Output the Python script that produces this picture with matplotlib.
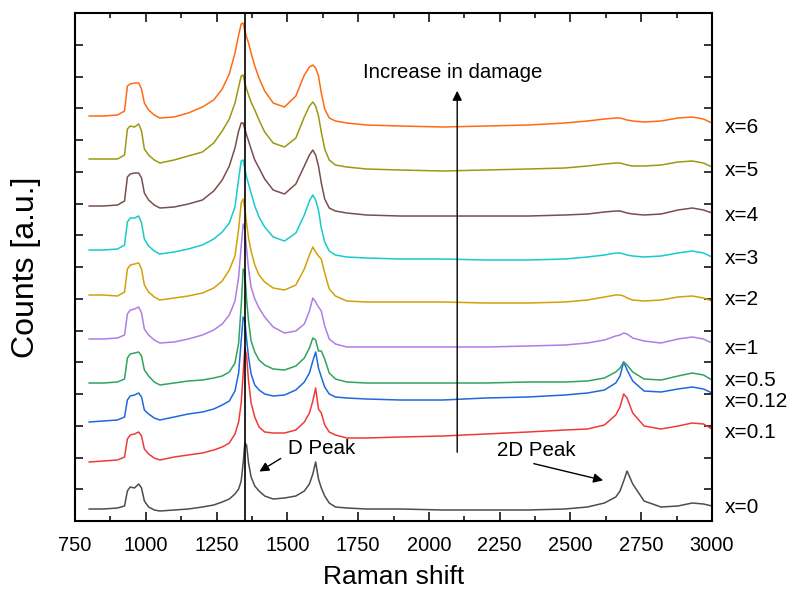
import numpy as np
import matplotlib
matplotlib.use('Agg')
import matplotlib.pyplot as plt
from matplotlib.ticker import MultipleLocator

plt.rcParams['font.family'] = ['Liberation Sans', 'DejaVu Sans']

# Raman shift sample positions (cm^-1)
raman_shift = [800, 850, 900, 925, 935, 945, 960, 975, 985, 995,
               1010, 1030, 1050, 1100, 1150, 1200, 1240, 1270, 1295, 1315,
               1328, 1337, 1344, 1350, 1356, 1363, 1372, 1385, 1400, 1420,
               1450, 1490, 1530, 1560, 1578, 1590, 1600, 1610, 1620, 1632,
               1648, 1670, 1710, 1780, 1900, 2050, 2200, 2350, 2480, 2560,
               2620, 2660, 2675, 2688, 2700, 2720, 2760, 2820, 2880, 2930,
               2970, 3000]

# stacked counts (a.u.), one list per sample
counts_x0 = [12, 12, 13, 15, 30, 34, 33, 37, 33, 20,
             14, 11, 10, 11, 12, 14, 16, 19, 22, 27,
             32, 40, 58, 78, 76, 58, 44, 35, 30, 25,
             22, 23, 25, 30, 37, 47, 59, 42, 33, 25,
             18, 14, 13, 12, 12, 11, 11, 11, 12, 14,
             18, 24, 30, 40, 50, 37, 20, 14, 15, 18,
             17, 15]
counts_x01 = [59, 60, 61, 64, 82, 86, 87, 89, 85, 72,
              67, 63, 61, 64, 66, 68, 71, 74, 78, 87,
              99, 118, 148, 173, 165, 140, 118, 104, 94, 89,
              88, 88, 91, 99, 108, 120, 133, 112, 108, 96,
              89, 86, 83, 83, 84, 85, 87, 89, 91, 92,
              96, 106, 114, 127, 123, 108, 95, 92, 95, 98,
              97, 92]
counts_x012 = [99, 100, 101, 104, 121, 125, 126, 128, 124, 111,
               107, 103, 101, 104, 107, 109, 112, 116, 120, 130,
               148, 180, 204, 200, 182, 164, 147, 136, 131, 127,
               125, 126, 131, 139, 148, 160, 169, 153, 144, 134,
               127, 124, 123, 122, 121, 121, 123, 124, 126, 128,
               131, 138, 145, 159, 151, 140, 130, 129, 132, 134,
               132, 128]
counts_x05 = [138, 138, 139, 142, 163, 167, 168, 169, 165, 151,
              145, 139, 136, 138, 140, 141, 143, 145, 149, 158,
              178, 215, 252, 248, 222, 200, 180, 169, 161, 156,
              152, 151, 155, 163, 173, 183, 181, 170, 170, 162,
              148, 142, 139, 138, 138, 138, 138, 139, 139, 140,
              143, 149, 153, 159, 156, 149, 142, 141, 145, 148,
              146, 141]
counts_x1 = [182, 182, 183, 186, 207, 211, 212, 214, 208, 192,
             186, 181, 178, 179, 182, 186, 191, 197, 206, 220,
             244, 275, 297, 292, 272, 252, 234, 222, 213, 204,
             194, 188, 190, 197, 210, 223, 219, 214, 210, 195,
             182, 177, 174, 174, 174, 174, 174, 175, 176, 178,
             181, 185, 186, 188, 187, 183, 180, 178, 182, 184,
             182, 178]
counts_x2 = [226, 226, 225, 229, 252, 256, 257, 258, 252, 236,
             229, 224, 221, 223, 225, 228, 233, 240, 251, 265,
             292, 318, 322, 312, 298, 283, 270, 256, 246, 239,
             233, 231, 236, 252, 266, 274, 269, 265, 262, 248,
             232, 225, 220, 219, 219, 219, 218, 218, 219, 221,
             224, 226, 226, 225, 223, 221, 220, 221, 224, 225,
             223, 220]
counts_x3 = [271, 271, 272, 276, 299, 303, 303, 305, 298, 282,
             275, 270, 267, 269, 272, 276, 282, 289, 298, 314,
             342, 360, 361, 352, 344, 337, 328, 315, 304, 294,
             284, 280, 288, 306, 320, 326, 321, 311, 293, 279,
             270, 266, 264, 263, 262, 262, 261, 261, 262, 264,
             266, 268, 268, 267, 266, 265, 264, 265, 268, 270,
             268, 264]
counts_x4 = [315, 315, 316, 320, 344, 347, 348, 348, 343, 328,
             321, 316, 313, 314, 317, 321, 330, 341, 355, 373,
             390, 398, 398, 392, 386, 380, 372, 361, 353, 342,
             331, 327, 337, 355, 366, 371, 366, 355, 338, 322,
             313, 310, 308, 306, 305, 305, 305, 305, 306, 307,
             309, 310, 310, 309, 308, 307, 306, 307, 311, 313,
             311, 308]
counts_x5 = [362, 362, 362, 366, 392, 395, 394, 397, 390, 372,
             366, 361, 358, 361, 365, 369, 378, 390, 402, 418,
             434, 445, 446, 438, 432, 426, 419, 411, 401, 389,
             378, 374, 383, 404, 415, 419, 415, 405, 389, 372,
             361, 356, 354, 352, 351, 350, 351, 352, 353, 355,
             357, 358, 358, 357, 356, 355, 355, 356, 359, 360,
             358, 354]
counts_x6 = [405, 405, 406, 410, 435, 437, 438, 438, 432, 418,
             411, 406, 403, 404, 408, 414, 421, 432, 447, 468,
             486, 497, 498, 490, 484, 478, 468, 455, 443, 430,
             418, 414, 425, 446, 454, 456, 453, 445, 428, 412,
             403, 400, 398, 396, 395, 394, 395, 396, 398, 400,
             402, 403, 403, 402, 401, 400, 399, 400, 403, 404,
             402, 398]

spectra = [counts_x0, counts_x01, counts_x012, counts_x05, counts_x1,
           counts_x2, counts_x3, counts_x4, counts_x5, counts_x6]
labels = ['x=0', 'x=0.1', 'x=0.12', 'x=0.5', 'x=1',
          'x=2', 'x=3', 'x=4', 'x=5', 'x=6']
label_heights = [14, 89, 120, 141, 173, 222, 263, 306, 351, 394]
colors = ['#4d4d4d', '#f03a3a', '#1f68dd', '#2ea45e', '#b07de6',
          '#d2a10a', '#18caca', '#7a4e4e', '#9a9a12', '#ff6a14']

fig = plt.figure(figsize=(7.92, 5.97), dpi=100)
ax = fig.add_axes([0.0947, 0.1273, 0.8043, 0.8509])

for c, s in zip(colors, spectra):
    ax.plot(raman_shift, s, color=c, lw=1.1)

for lab, h in zip(labels, label_heights):
    ax.text(1.02, h, lab, transform=ax.get_yaxis_transform(),
            fontsize=15, va='center', ha='left')

ax.axvline(1350, color='black', lw=1.2)

ax.annotate('', xy=(2100, 433), xytext=(2100, 66),
            arrowprops=dict(arrowstyle='-|>', color='black', lw=1.0, mutation_scale=14))
ax.text(2085, 449, 'Increase in damage', fontsize=14.7, ha='center', va='center')

ax.text(1502, 73, 'D Peak', fontsize=14.8, ha='left', va='center')
ax.annotate('', xy=(1393, 48), xytext=(1485, 64),
            arrowprops=dict(arrowstyle='-|>', color='black', lw=1.0, mutation_scale=14))
ax.text(2240, 71, '2D Peak', fontsize=14.8, ha='left', va='center')
ax.annotate('', xy=(2625, 40), xytext=(2361, 58),
            arrowprops=dict(arrowstyle='-|>', color='black', lw=1.0, mutation_scale=14))

ax.set_xlim(750, 3000)
ax.set_ylim(0, 508)
ax.xaxis.set_major_locator(MultipleLocator(250))
ax.xaxis.set_minor_locator(MultipleLocator(125))
ax.set_yticks(np.linspace(0, 508, 17))
ax.set_yticklabels([])
ax.tick_params(axis='x', which='major', direction='in', top=True, length=6.5, width=1.1,
               labelsize=14.4, pad=11)
ax.tick_params(axis='x', which='minor', direction='in', top=True, length=3.3, width=1.1)
ax.tick_params(axis='y', direction='in', right=True, length=6, width=1.1)
for sp in ax.spines.values():
    sp.set_linewidth(1.5)

ax.set_xlabel('Raman shift', fontsize=19)
ax.xaxis.set_label_coords(0.5, -0.087)
ax.set_ylabel('Counts [a.u.]', fontsize=23)
ax.yaxis.set_label_coords(-0.053, 0.5)

fig.savefig('out.png', dpi=100)
